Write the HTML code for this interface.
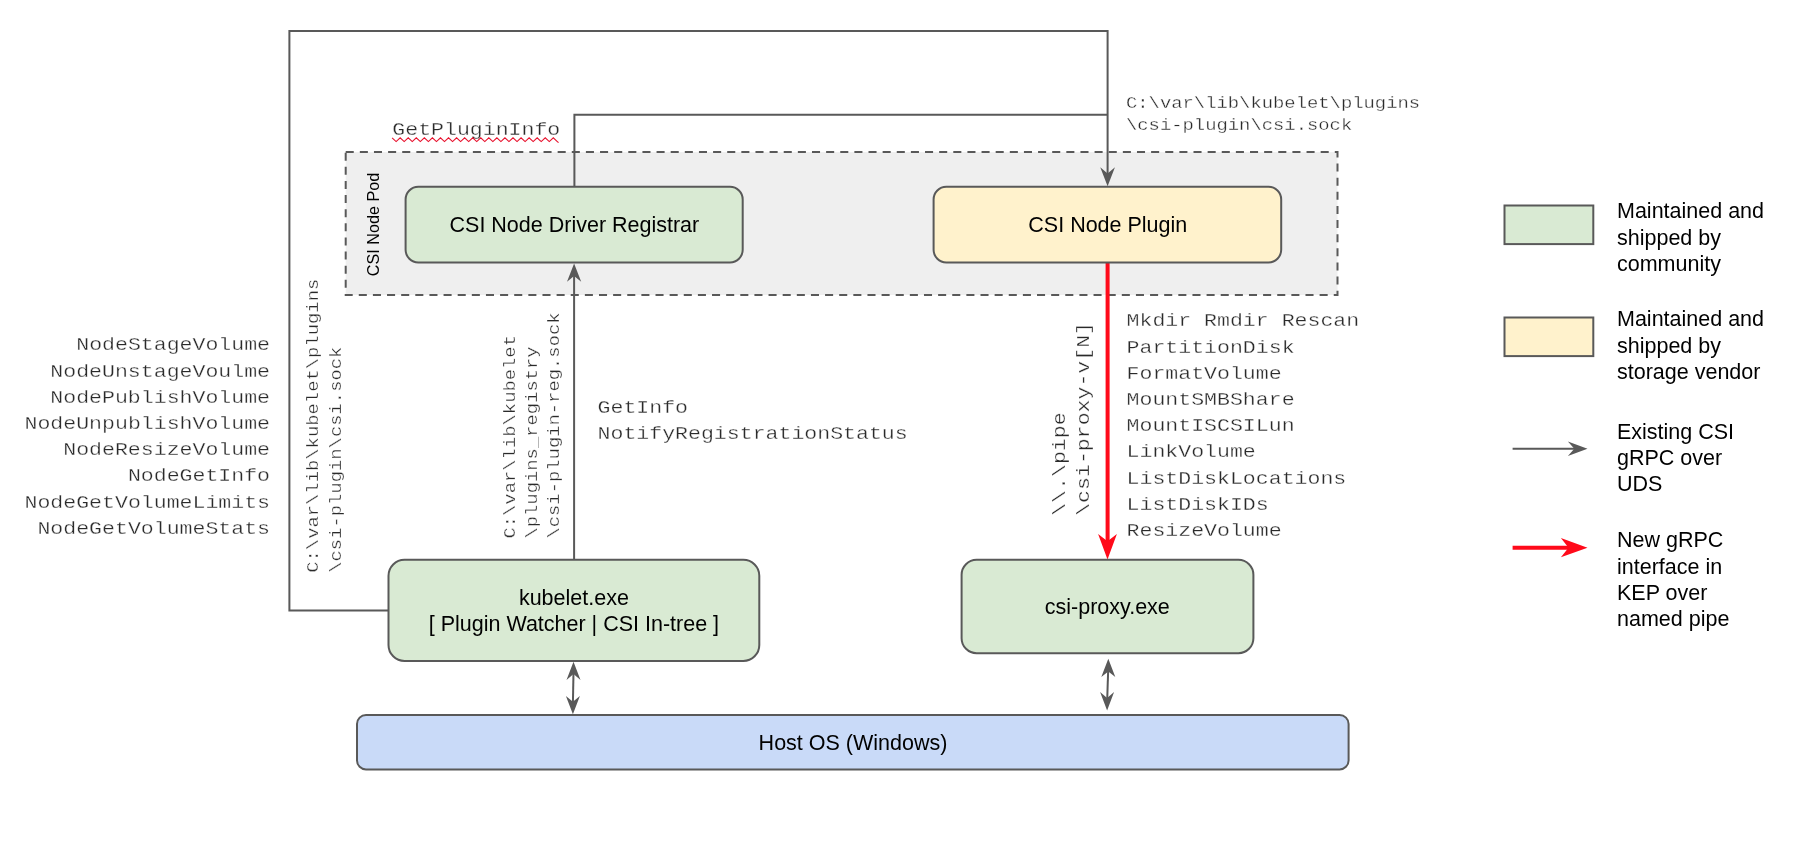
<!DOCTYPE html>
<html>
<head>
<meta charset="utf-8">
<title>CSI Proxy Architecture</title>
<style>
html,body{margin:0;padding:0;background:#ffffff;}
body{width:1818px;height:842px;overflow:hidden;}
svg{display:block;}
.mono{font-family:"Liberation Mono",monospace;fill:#2a2a2a;stroke:#ffffff;stroke-width:0.34;}
.sans{font-family:"Liberation Sans",sans-serif;fill:#000000;}
.ln{stroke:#595959;stroke-width:2;fill:none;}
.bx{stroke:#595959;stroke-width:2;}
.ah{fill:#595959;stroke:none;}
</style>
</head>
<body>
<svg width="1818" height="842" viewBox="0 0 1818 842">
<rect x="0" y="0" width="1818" height="842" fill="#ffffff"/>
<g opacity="0.999">

<rect x="345.7" y="152.1" width="991.8" height="142.9" fill="#efefef" stroke="#595959" stroke-width="2" stroke-dasharray="8.05 6.08"/>
<path class="ln" d="M388 610.4 H289.4 V31 H1107.6 V176"/>
<path class="ln" d="M574.4 187 V114.7 H1107.6"/>
<path class="ln" d="M574.1 560 V274"/>
<path d="M1107.6 263 V545" stroke="#ff0a1a" stroke-width="4" fill="none"/>
<path class="ln" d="M573.5 672 L572.9 704"/>
<path class="ln" d="M1108.2 669 L1107.2 700"/>
<path d="M1107.60 186.20 L1100.25 167.20 L1107.60 173.40 L1114.95 167.20 Z" fill="#595959"/>
<path d="M574.10 263.60 L581.20 281.80 L574.10 276.00 L567.00 281.80 Z" fill="#595959"/>
<path d="M1107.50 559.40 L1098.10 534.00 L1107.50 541.20 L1116.90 534.00 Z" fill="#ff0a1a"/>
<path d="M573.50 661.80 L580.50 680.00 L573.50 674.00 L566.50 680.00 Z" fill="#595959"/>
<path d="M572.90 714.20 L565.90 696.00 L572.90 701.80 L579.90 696.00 Z" fill="#595959"/>
<path d="M1108.30 658.80 L1115.30 677.10 L1108.30 671.40 L1101.30 677.10 Z" fill="#595959"/>
<path d="M1107.10 710.40 L1100.10 692.00 L1107.10 698.00 L1114.10 692.00 Z" fill="#595959"/>
<rect class="bx" x="405.6" y="186.8" width="337.1" height="75.6" rx="12.7" ry="12.7" fill="#d9ead3"/>
<rect class="bx" x="933.6" y="186.8" width="347.6" height="75.6" rx="12.7" ry="12.7" fill="#fff2cc"/>
<rect class="bx" x="388.5" y="559.8" width="370.8" height="101.1" rx="16" ry="16" fill="#d9ead3"/>
<rect class="bx" x="961.6" y="559.8" width="291.8" height="93.4" rx="15" ry="15" fill="#d9ead3"/>
<rect class="bx" x="357.0" y="715.0" width="991.6" height="54.4" rx="9" ry="9" fill="#c9daf8"/>
<text class="sans" x="574.4" y="231.8" font-size="21.5" text-anchor="middle">CSI Node Driver Registrar</text>
<text class="sans" x="1107.8" y="231.8" font-size="21.5" text-anchor="middle">CSI Node Plugin</text>
<text class="sans" x="573.9" y="604.8" font-size="21.5" text-anchor="middle">kubelet.exe</text>
<text class="sans" x="573.9" y="631" font-size="21.5" text-anchor="middle">[ Plugin Watcher | CSI In-tree ]</text>
<text class="sans" x="1107.3" y="614.2" font-size="21.5" text-anchor="middle">csi-proxy.exe</text>
<text class="sans" x="853" y="749.8" font-size="21.5" text-anchor="middle">Host OS (Windows)</text>
<text class="sans" font-size="16.2" text-anchor="middle" transform="translate(379,224.5) rotate(-90)">CSI Node Pod</text>
<text class="mono" transform="translate(392.3,134.7) scale(1,0.86)" font-size="21.55" text-anchor="start">GetPluginInfo</text>
<path d="M392.1 137.8 l4.03 3.8 l4.03 -3.8 l4.03 3.8 l4.03 -3.8 l4.03 3.8 l4.03 -3.8 l4.03 3.8 l4.03 -3.8 l4.03 3.8 l4.03 -3.8 l4.03 3.8 l4.03 -3.8 l4.03 3.8 l4.03 -3.8 l4.03 3.8 l4.03 -3.8 l4.03 3.8 l4.03 -3.8 l4.03 3.8 l4.03 -3.8 l4.03 3.8 l4.03 -3.8 l4.03 3.8 l4.03 -3.8 l4.03 3.8 l4.03 -3.8 l4.03 3.8 l4.03 -3.8 l4.03 3.8 l4.03 -3.8 l4.03 3.8 l4.03 -3.8 l4.03 3.8 l4.03 -3.8 l4.03 3.8 l4.03 -3.8 l4.03 3.8 l4.03 -3.8 l4.03 3.8 l4.03 -3.8 l4.03 3.8 l1.2 1.1" stroke="#e8112d" stroke-width="1.1" fill="none"/>
<text class="mono" transform="translate(1126,107.6) scale(1,0.86)" font-size="18.86" text-anchor="start">C:\var\lib\kubelet\plugins</text>
<text class="mono" transform="translate(1126,129.8) scale(1,0.86)" font-size="18.86" text-anchor="start">\csi-plugin\csi.sock</text>
<text class="mono" transform="translate(270,350.3) scale(1,0.86)" font-size="21.55" text-anchor="end">NodeStageVolume</text>
<text class="mono" transform="translate(270,376.5) scale(1,0.86)" font-size="21.55" text-anchor="end">NodeUnstageVoulme</text>
<text class="mono" transform="translate(270,402.7) scale(1,0.86)" font-size="21.55" text-anchor="end">NodePublishVolume</text>
<text class="mono" transform="translate(270,428.9) scale(1,0.86)" font-size="21.55" text-anchor="end">NodeUnpublishVolume</text>
<text class="mono" transform="translate(270,455.1) scale(1,0.86)" font-size="21.55" text-anchor="end">NodeResizeVolume</text>
<text class="mono" transform="translate(270,481.3) scale(1,0.86)" font-size="21.55" text-anchor="end">NodeGetInfo</text>
<text class="mono" transform="translate(270,507.5) scale(1,0.86)" font-size="21.55" text-anchor="end">NodeGetVolumeLimits</text>
<text class="mono" transform="translate(270,533.7) scale(1,0.86)" font-size="21.55" text-anchor="end">NodeGetVolumeStats</text>
<text class="mono" transform="translate(597.6,412.8) scale(1,0.86)" font-size="21.55" text-anchor="start">GetInfo</text>
<text class="mono" transform="translate(597.6,439.0) scale(1,0.86)" font-size="21.55" text-anchor="start">NotifyRegistrationStatus</text>
<text class="mono" transform="translate(1126.6,326.4) scale(1,0.86)" font-size="21.55" text-anchor="start">Mkdir Rmdir Rescan</text>
<text class="mono" transform="translate(1126.6,352.59999999999997) scale(1,0.86)" font-size="21.55" text-anchor="start">PartitionDisk</text>
<text class="mono" transform="translate(1126.6,378.79999999999995) scale(1,0.86)" font-size="21.55" text-anchor="start">FormatVolume</text>
<text class="mono" transform="translate(1126.6,405.0) scale(1,0.86)" font-size="21.55" text-anchor="start">MountSMBShare</text>
<text class="mono" transform="translate(1126.6,431.2) scale(1,0.86)" font-size="21.55" text-anchor="start">MountISCSILun</text>
<text class="mono" transform="translate(1126.6,457.4) scale(1,0.86)" font-size="21.55" text-anchor="start">LinkVolume</text>
<text class="mono" transform="translate(1126.6,483.59999999999997) scale(1,0.86)" font-size="21.55" text-anchor="start">ListDiskLocations</text>
<text class="mono" transform="translate(1126.6,509.79999999999995) scale(1,0.86)" font-size="21.55" text-anchor="start">ListDiskIDs</text>
<text class="mono" transform="translate(1126.6,536.0) scale(1,0.86)" font-size="21.55" text-anchor="start">ResizeVolume</text>
<text class="mono" transform="translate(317.9,572.8) rotate(-90) scale(1,0.86)" font-size="18.86">C:\var\lib\kubelet\plugins</text>
<text class="mono" transform="translate(341,572.8) rotate(-90) scale(1,0.86)" font-size="18.86">\csi-plugin\csi.sock</text>
<text class="mono" transform="translate(514.5,538.6) rotate(-90) scale(1,0.86)" font-size="18.86">C:\var\lib\kubelet</text>
<text class="mono" transform="translate(536.9,538.6) rotate(-90) scale(1,0.86)" font-size="18.86">\plugins_registry</text>
<text class="mono" transform="translate(559,538.6) rotate(-90) scale(1,0.86)" font-size="18.86">\csi-plugin-reg.sock</text>
<text class="mono" transform="translate(1064.8,515.8) rotate(-90) scale(1,0.86)" font-size="21.55">\\.\pipe</text>
<text class="mono" transform="translate(1089.2,515.8) rotate(-90) scale(1,0.86)" font-size="21.55">\csi-proxy-v[N]</text>
<rect x="1504.5" y="205.5" width="88.8" height="38.6" fill="#d9ead3" stroke="#595959" stroke-width="2"/>
<rect x="1504.5" y="317.5" width="88.8" height="38.6" fill="#fff2cc" stroke="#595959" stroke-width="2"/>
<path class="ln" d="M1512.6 448.7 H1577"/>
<path d="M1587.50 448.70 L1567.90 455.90 L1574.30 448.70 L1567.90 441.50 Z" fill="#595959"/>
<path d="M1512.6 547.7 H1572" stroke="#ff0a1a" stroke-width="4" fill="none"/>
<path d="M1587.50 547.70 L1560.90 557.30 L1568.50 547.70 L1560.90 538.10 Z" fill="#ff0a1a"/>
<text class="sans" x="1617" y="218" font-size="21.5" text-anchor="start">Maintained and</text>
<text class="sans" x="1617" y="244.5" font-size="21.5" text-anchor="start">shipped by</text>
<text class="sans" x="1617" y="271" font-size="21.5" text-anchor="start">community</text>
<text class="sans" x="1617" y="326" font-size="21.5" text-anchor="start">Maintained and</text>
<text class="sans" x="1617" y="352.5" font-size="21.5" text-anchor="start">shipped by</text>
<text class="sans" x="1617" y="379" font-size="21.5" text-anchor="start">storage vendor</text>
<text class="sans" x="1617" y="438.5" font-size="21.5" text-anchor="start">Existing CSI</text>
<text class="sans" x="1617" y="465" font-size="21.5" text-anchor="start">gRPC over</text>
<text class="sans" x="1617" y="491" font-size="21.5" text-anchor="start">UDS</text>
<text class="sans" x="1617" y="547" font-size="21.5" text-anchor="start">New gRPC</text>
<text class="sans" x="1617" y="573.5" font-size="21.5" text-anchor="start">interface in</text>
<text class="sans" x="1617" y="600" font-size="21.5" text-anchor="start">KEP over</text>
<text class="sans" x="1617" y="626" font-size="21.5" text-anchor="start">named pipe</text>
</g>
</svg>
</body>
</html>
